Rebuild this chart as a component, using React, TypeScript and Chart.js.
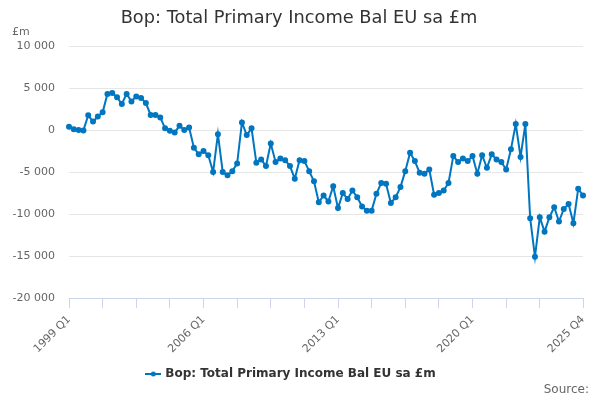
import { useEffect, useRef } from 'react';
import { Chart, registerables } from 'chart.js';

Chart.register(...registerables);

const years = [
  1999, 2000, 2001, 2002, 2003, 2004, 2005, 2006, 2007, 2008, 2009, 2010, 2011, 2012,
  2013, 2014, 2015, 2016, 2017, 2018, 2019, 2020, 2021, 2022, 2023, 2024, 2025,
];
const quarters = ['Q1', 'Q2', 'Q3', 'Q4'];
const categories = years.flatMap((y) => quarters.map((q) => `${y} ${q}`));

// £m, 1999 Q1 .. 2025 Q4
const balance = [
  400, 100, 0, -50, 1750, 1000, 1600, 2100, 4300, 4400, 3900, 3100,
  4300, 3400, 4000, 3800, 3200, 1800, 1800, 1500, 200, -100, -300, 500,
  0, 300, -2100, -2900, -2500, -3000, -5000, -500, -5000, -5400, -4900, -4000,
  900, -600, 200, -3900, -3500, -4300, -1600, -3800, -3400, -3600, -4300, -5800,
  -3600, -3700, -4900, -6100, -8600, -7800, -8500, -6700, -9300, -7500, -8200, -7200,
  -8000, -9100, -9600, -9600, -7600, -6300, -6400, -8700, -8000, -6800, -4900, -2700,
  -3700, -5100, -5200, -4700, -7700, -7500, -7200, -6300, -3100, -3800, -3400, -3700,
  -3100, -5200, -3000, -4500, -2900, -3500, -3800, -4700, -2300, 700, -3200, 700,
  -10500, -15100, -10400, -12100, -10400, -9200, -10900, -9400, -8800, -11100, -7000, -7800,
];

const shownLabels = ['1999 Q1', '2006 Q1', '2013 Q1', '2020 Q1', '2025 Q4'];

const chartTitle = 'Bop: Total Primary Income Bal EU sa £m';
const seriesName = 'Bop: Total Primary Income Bal EU sa £m';
const lineColor = '#0076c0';
const font = '"DejaVu Sans", sans-serif';

const fmt = (v: number) => {
  const s = String(Math.abs(v)).replace(/\B(?=(\d{3})+(?!\d))/g, ' ');
  return v < 0 ? '-' + s : s;
};

// title, unit and source are placed against the whole canvas, not the chart area
const notesPlugin = {
  id: 'notesPlugin',
  afterDraw: (chart: any) => {
    const ctx = chart.ctx;
    ctx.save();
    ctx.textBaseline = 'middle';
    ctx.fillStyle = '#333333';
    ctx.font = `17.8px ${font}`;
    ctx.textAlign = 'center';
    ctx.fillText(chartTitle, 299, 18);
    ctx.fillStyle = '#666666';
    ctx.font = `11px ${font}`;
    ctx.textAlign = 'left';
    ctx.fillText('£m', 12, 32);
    ctx.font = `12px ${font}`;
    ctx.textAlign = 'right';
    ctx.fillText('Source:', 589, 390);
    ctx.restore();
  },
};

const makeLegendSymbol = () => {
  const c = document.createElement('canvas');
  c.width = 16;
  c.height = 8;
  const g = c.getContext('2d');
  if (g) {
    g.strokeStyle = lineColor;
    g.lineWidth = 2;
    g.beginPath();
    g.moveTo(0, 4);
    g.lineTo(16, 4);
    g.stroke();
    g.fillStyle = lineColor;
    g.beginPath();
    g.arc(8, 4, 2.5, 0, Math.PI * 2);
    g.fill();
  }
  return c;
};

const App = () => {
  const chartRef = useRef<HTMLCanvasElement>(null);

  useEffect(() => {
    document.body.style.margin = '0';
    if (!chartRef.current) return;
    const ctx = chartRef.current.getContext('2d');
    if (!ctx) return;
    const last = categories.length - 1;

    const chart = new Chart(ctx, {
      type: 'line',
      data: {
        labels: categories,
        datasets: [
          {
            label: seriesName,
            data: balance,
            borderColor: lineColor,
            backgroundColor: lineColor,
            borderWidth: 2,
            pointRadius: 2,
            pointHoverRadius: 3,
            pointStyle: 'circle',
            fill: false,
            tension: 0,
          },
        ],
      },
      options: {
        responsive: false,
        animation: false,
        layout: { padding: { left: 0, right: 17, top: 46, bottom: 10 } },
        scales: {
          x: {
            type: 'category',
            offset: false,
            afterFit: (s: any) => {
              s.height = 62;
            },
            grid: {
              drawOnChartArea: false,
              drawTicks: true,
              tickLength: 10,
              color: (c: any) =>
                (c.index % 7 === 0 && c.index <= 98) || c.index === last ? '#ccd6eb' : 'rgba(0,0,0,0)',
            },
            border: { display: true, color: '#ccd6eb', width: 1 },
            ticks: {
              autoSkip: false,
              maxRotation: 45,
              minRotation: 45,
              padding: 5,
              color: '#666666',
              font: { family: font, size: 11 },
              callback: (_v: any, i: number) =>
                shownLabels.includes(categories[i]) ? categories[i] : '',
            },
          },
          y: {
            min: -20000,
            max: 10000,
            afterFit: (s: any) => {
              s.width = 69;
            },
            grid: { color: '#e6e6e6', drawTicks: false },
            border: { display: false },
            ticks: {
              stepSize: 5000,
              padding: 14,
              color: '#666666',
              font: { family: font, size: 11 },
              callback: (v: any) => fmt(Number(v)),
            },
          },
        },
        plugins: {
          title: { display: false },
          legend: {
            display: true,
            position: 'bottom',
            labels: {
              usePointStyle: true,
              pointStyle: makeLegendSymbol() as any,
              color: '#333333',
              font: { family: font, size: 12, weight: 'bold' },
              padding: 8,
            },
          },
          tooltip: { enabled: false },
        },
      },
      plugins: [notesPlugin],
    });

    return () => {
      chart.destroy();
    };
  }, []);

  return (
    <div style={{ width: 600, height: 400 }}>
      <canvas ref={chartRef} width={600} height={400}></canvas>
    </div>
  );
};

export default App;
